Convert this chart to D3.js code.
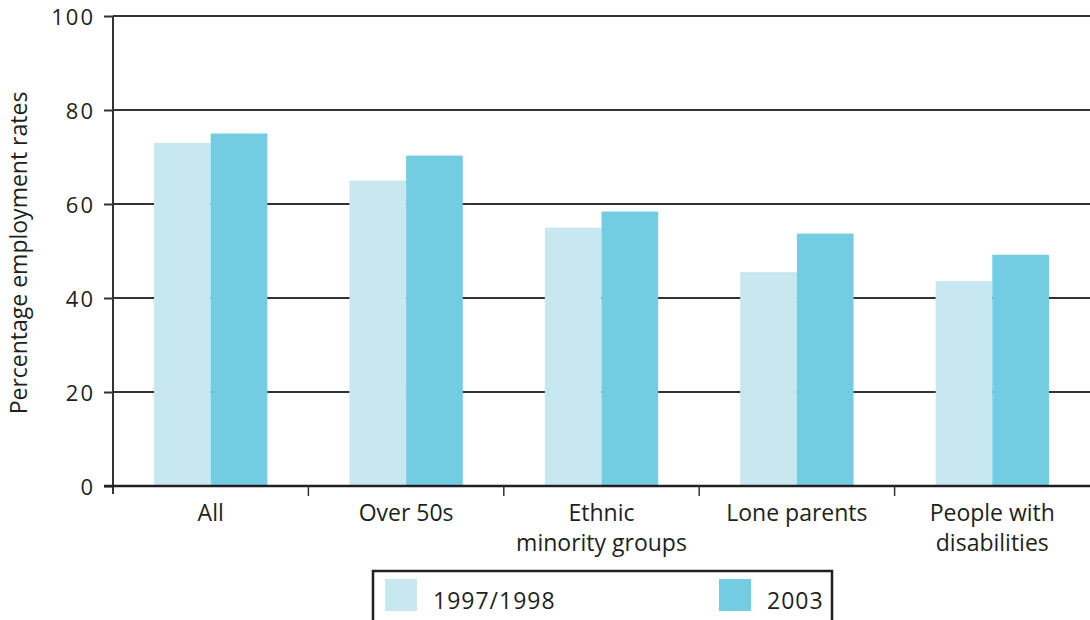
<!DOCTYPE html>
<html><head><meta charset="utf-8">
<script src="https://cdn.jsdelivr.net/npm/d3@7"></script>
<style>
html,body{margin:0;padding:0;background:#fff;}
svg{display:block;}
text{font-family:"Open Sans",sans-serif;fill:#231f20;}
</style></head>
<body>
<svg id="chart" width="1090" height="620"></svg>
<script>
const categories = ["All", "Over 50s", "Ethnic\nminority groups", "Lone parents", "People with\ndisabilities"];
const seriesNames = ["1997/1998", "2003"];
const values1997 = [73, 65, 55, 45.5, 43.6];
const values2003 = [75, 70.3, 58.4, 53.7, 49.2];
const yTicks = [0, 20, 40, 60, 80, 100];
const yLabel = "Percentage employment rates";
const colors = ["#c8e8f1", "#72cde3"];

(function () {
const svg = d3.select("#chart");
const mLeft = 113, mRight = 1090, mTop = 16, mBottom = 486;

const y = d3.scaleLinear().domain([0, 100]).range([mBottom, mTop]);
const x = d3.scaleBand().domain(categories).range([mLeft, mRight]).paddingInner(0.42).paddingOuter(0.21);
const x1 = d3.scaleBand().domain(seriesNames).range([0, x.bandwidth()]);
const color = d3.scaleOrdinal().domain(seriesNames).range(colors);
const series = [values1997, values2003];

// gridlines
svg.append("g").selectAll("line").data(yTicks.filter(d => d > 0)).join("line")
  .attr("x1", mLeft).attr("x2", mRight)
  .attr("y1", d => y(d)).attr("y2", d => y(d))
  .attr("stroke", "#333").attr("stroke-width", 2);

// bars
const groups = svg.append("g").selectAll("g").data(categories).join("g")
  .attr("transform", d => `translate(${x(d)},0)`);
groups.selectAll("rect").data((c, i) => seriesNames.map((s, k) => ({s, v: series[k][i]}))).join("rect")
  .attr("x", d => x1(d.s)).attr("width", x1.bandwidth())
  .attr("y", d => y(d.v)).attr("height", d => y(0) - y(d.v))
  .attr("fill", d => color(d.s));

// y axis
const yAxis = svg.append("g").attr("transform", `translate(${mLeft},0)`)
  .call(d3.axisLeft(y).tickValues(yTicks).tickSize(9).tickPadding(11).tickFormat(d3.format("d")));
yAxis.select(".domain").remove();
yAxis.selectAll(".tick line").attr("stroke", "#333").attr("stroke-width", 2);
yAxis.selectAll(".tick text").style("font-size", "22px").style("letter-spacing", "2px")
  .style("font-family", "'Open Sans',sans-serif").attr("fill", "#231f20").attr("dy", "8px").attr("dx", "2px");
svg.append("line").attr("x1", mLeft).attr("x2", mLeft).attr("y1", mTop).attr("y2", mBottom + 8)
  .attr("stroke", "#333").attr("stroke-width", 2);

// x axis baseline
svg.append("line").attr("x1", mLeft - 9).attr("x2", mRight).attr("y1", y(0)).attr("y2", y(0))
  .attr("stroke", "#231f20").attr("stroke-width", 2.5);

// x dividers
const step = x.step();
svg.append("g").selectAll("line").data(categories.slice(1)).join("line")
  .attr("x1", d => x(d) - step * x.paddingInner() / 2).attr("x2", d => x(d) - step * x.paddingInner() / 2)
  .attr("y1", y(0)).attr("y2", y(0) + 10)
  .attr("stroke", "#333").attr("stroke-width", 1.5);

// category labels
const labels = svg.append("g").selectAll("text").data(categories).join("text")
  .attr("x", d => x(d) + x.bandwidth() / 2).attr("y", 521)
  .attr("text-anchor", "middle").style("font-size", "23px");
labels.selectAll("tspan").data(d => d.split("\n")).join("tspan")
  .attr("x", function () { return d3.select(this.parentNode).attr("x"); })
  .attr("dy", (d, i) => i === 0 ? 0 : 30).text(d => d);

// y label
svg.append("text").attr("transform", `translate(27,253) rotate(-90)`)
  .attr("text-anchor", "middle").style("font-size", "23px").text(yLabel);

// legend
svg.append("rect").attr("x", 373).attr("y", 571).attr("width", 459).attr("height", 60)
  .attr("fill", "none").attr("stroke", "#231f20").attr("stroke-width", 2.5);
const legendX = [385, 719];
const lg = svg.append("g").selectAll("g").data(seriesNames).join("g")
  .attr("transform", (d, i) => `translate(${legendX[i]},579)`);
lg.append("rect").attr("width", 32).attr("height", 32).attr("fill", d => color(d));
lg.append("text").attr("x", 48).attr("y", 30).style("font-size", "23px").style("letter-spacing", "1px").text(d => d);
})();
</script>
</body></html>
